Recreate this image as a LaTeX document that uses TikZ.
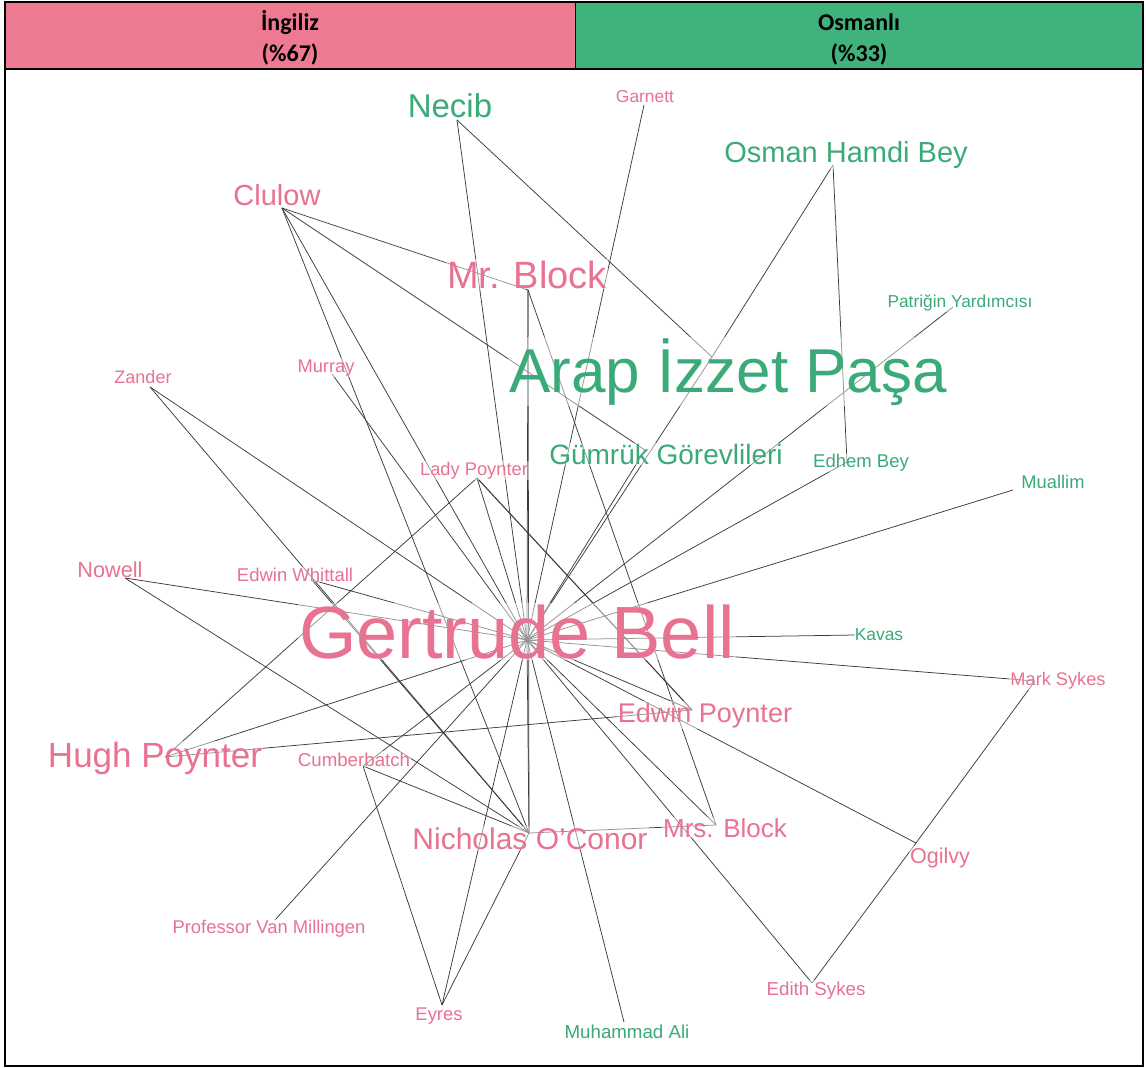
\documentclass[tikz,border=0pt]{standalone}
\usepackage{fontspec}
\setmainfont{Liberation Sans}
\newfontfamily\hdrfont{Carlito}
\newcommand\myfs[1]{\fontsize{#1}{#1}\selectfont}
\definecolor{hpink}{RGB}{238,122,146}
\definecolor{hgreen}{RGB}{64,178,124}
\definecolor{tpink}{RGB}{232,114,145}
\definecolor{tgreen}{RGB}{58,170,120}
\definecolor{edgec}{RGB}{60,60,60}
\tikzset{
  lab/.style={inner sep=1pt, anchor=base, fill=white, fill opacity=0.45, text opacity=1},
  pk/.style={lab, text=tpink},
  gr/.style={lab, text=tgreen},
  link/.style={draw=edgec, line width=0.75pt},
  hdr/.style={font=\hdrfont\bfseries\myfs{24}, anchor=base, inner sep=0}
}
\begin{document}
\begin{tikzpicture}[x=1pt,y=-1pt]
\useasboundingbox (0,0) rectangle (1146,1068);
\fill[white] (0,0) rectangle (1146,1068);
% header
\fill[hpink] (5,2) rectangle (575,69);
\fill[hgreen] (575,2) rectangle (1143,69);
\draw[line width=0.8pt] (575,2) -- (575,69);
\draw[line width=2.5pt] (5,2) rectangle (1143,69);
\draw[line width=2.5pt] (5,69) -- (5,1066) -- (1143,1066) -- (1143,69);
\node[hdr] (h1) at (290,30) {İngiliz};
\node[hdr] (h2) at (290,61) {(\%67)};
\node[hdr] (h3) at (859,30) {Osmanlı};
\node[hdr] (h4) at (859,61) {(\%33)};
% node points
\coordinate (gb) at (527,640);
\coordinate (noc) at (529,833);
\coordinate (mrb) at (528,290);
\coordinate (necib) at (457,120);
\coordinate (garnett) at (644,105);
\coordinate (osman) at (833,165);
\coordinate (clulow) at (282,208);
\coordinate (patrik) at (953,307);
\coordinate (arap) at (712,357);
\coordinate (gumruk) at (645,450);
\coordinate (edhem) at (847,462);
\coordinate (muallim) at (1013,490);
\coordinate (kavas) at (855,635);
\coordinate (marks) at (1035,681);
\coordinate (ladyp) at (477,478);
\coordinate (zander) at (150,387);
\coordinate (murray) at (332,374);
\coordinate (nowell) at (125,578);
\coordinate (ewhit) at (312,580);
\coordinate (hughp) at (165,757);
\coordinate (cumber) at (363,766);
\coordinate (pvm) at (275,920);
\coordinate (eyres) at (442,1005);
\coordinate (mali) at (624,1022);
\coordinate (edwinp) at (692,710);
\coordinate (mrsb) at (716,825);
\coordinate (ogilvy) at (916,843);
\coordinate (edith) at (812,983);
% edges
\foreach \a in {necib,garnett,patrik,edhem,muallim,kavas,marks,ladyp,zander,murray,nowell,ewhit,hughp,cumber,pvm,eyres,mali,edwinp,mrsb,ogilvy,edith,noc,mrb,clulow,gumruk,arap}
  \draw[link] (gb) -- (\a);
\foreach \a in {mrb,clulow,zander,nowell,ewhit,cumber,eyres,mrsb}
  \draw[link] (noc) -- (\a);
\foreach \a/\b in {necib/arap,osman/arap,osman/edhem,clulow/mrb,clulow/gumruk,mrb/mrsb,ladyp/hughp,hughp/edwinp,cumber/eyres,ogilvy/marks,ogilvy/edith}
  \draw[link] (\a) -- (\b);
\draw[link, line width=1.1pt] (ladyp) -- (edwinp);
% labels
\node[pk, font=\myfs{74}] (gbL) at (517,658) {Gertrude Bell};
\node[gr, font=\myfs{62}] (arapL) at (728,392) {Arap İzzet Paşa};
\node[pk, font=\myfs{30}] (nocL) at (530,849) {Nicholas O{\char"0027}Conor};
\node[pk, font=\myfs{35}] (hughpL) at (155,767) {Hugh Poynter};
\node[pk, font=\myfs{38}] (mrbL) at (527,288) {Mr. Block};
\node[gr, font=\myfs{33}] (necibL) at (450,117) {Necib};
\node[gr, font=\myfs{29}] (osmanL) at (846,162) {Osman Hamdi Bey};
\node[pk, font=\myfs{29}] (clulowL) at (277,205) {Clulow};
\node[gr, font=\myfs{17.3}] (patrikL) at (960,307) {Patriğin Yardımcısı};
\node[gr, font=\myfs{28}] (gumrukL) at (666,464) {Gümrük Görevlileri};
\node[gr, font=\myfs{18.5}] (edhemL) at (861,467) {Edhem Bey};
\node[gr, font=\myfs{18.3}] (muallimL) at (1053,488) {Muallim};
\node[gr, font=\myfs{17.4}] (kavasL) at (879,640) {Kavas};
\node[pk, font=\myfs{18.3}] (ladypL) at (474,475) {Lady Poynter};
\node[pk, font=\myfs{18}] (zanderL) at (143,383) {Zander};
\node[pk, font=\myfs{18.3}] (murrayL) at (326,372) {Murray};
\node[pk, font=\myfs{21.7}] (nowellL) at (110,577) {Nowell};
\node[pk, font=\myfs{18.5}] (ewhitL) at (295,581) {Edwin Whittall};
\node[pk, font=\myfs{18.7}] (cumberL) at (354,766) {Cumberbatch};
\node[pk, font=\myfs{18.4}] (pvmL) at (269,933) {Professor Van Millingen};
\node[pk, font=\myfs{18.4}] (eyresL) at (439,1020) {Eyres};
\node[gr, font=\myfs{18.7}] (maliL) at (627,1038) {Muhammad Ali};
\node[pk, font=\myfs{27}] (edwinpL) at (705,722) {Edwin Poynter};
\node[pk, font=\myfs{26}] (mrsbL) at (725,837) {Mrs. Block};
\node[pk, font=\myfs{21.6}] (ogilvyL) at (940,863) {Ogilvy};
\node[pk, font=\myfs{18.2}] (marksL) at (1058,685) {Mark Sykes};
\node[pk, font=\myfs{18.7}] (edithL) at (816,995) {Edith Sykes};
\node[pk, font=\myfs{17.4}] (garnettL) at (645,102) {Garnett};
\end{tikzpicture}
\end{document}
